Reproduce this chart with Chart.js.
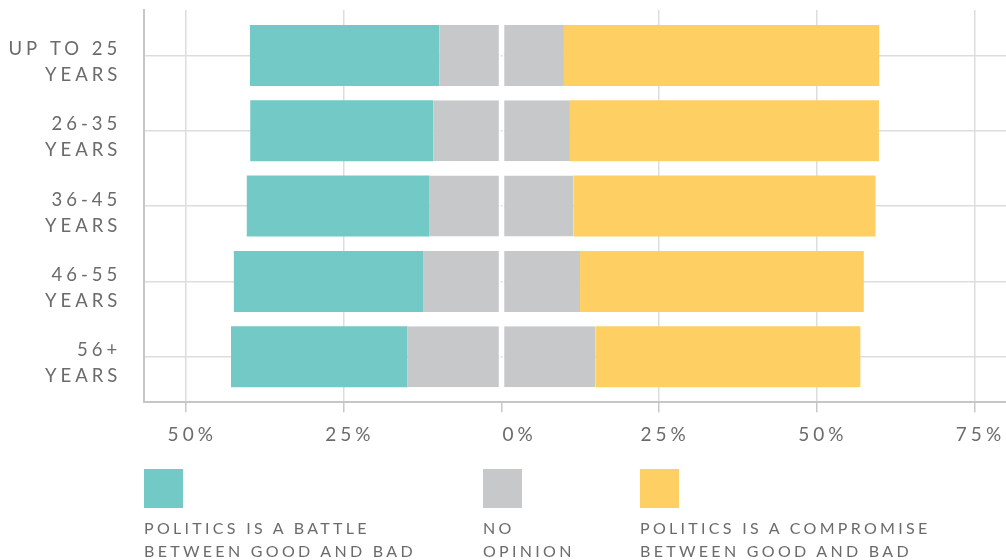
<!DOCTYPE html>
<html>
<head>
<meta charset="utf-8">
<script src="https://cdn.jsdelivr.net/npm/chart.js@4/dist/chart.umd.min.js"></script>
<style>
  html, body { margin: 0; padding: 0; background: #ffffff; }
  #wrap { position: relative; width: 1006px; height: 560px; overflow: hidden; }
  #chart { position: absolute; left: 0; top: 0; }
  .sw { position: absolute; top: 469px; width: 39px; height: 39px; }
  .lt { position: absolute; top: 516px; font-family: Lato, "Open Sans", sans-serif; font-size: 16px;
        line-height: 23px; letter-spacing: 3.3px; color: #6b6b6b; white-space: nowrap; }
</style>
</head>
<body>
<div id="wrap">
  <canvas id="chart" width="1006" height="560"></canvas>
  <div id="legend"></div>
</div>
<script>
// ---- data ----
const categories = [['UP TO 25', 'YEARS'], ['26-35', 'YEARS'], ['36-45', 'YEARS'], ['46-55', 'YEARS'], ['56+', 'YEARS']];
const battle = [30, 29, 29, 30, 28];          // "Politics is a battle between good and bad" (%)
const noOpinion = [19.8, 21.7, 22.8, 24.9, 29.8]; // "No opinion" (%), centred on 0
const compromise = [50, 49, 47.9, 45, 42];    // "Politics is a compromise between good and bad" (%)
const xTickValues = [-50, -25, 0, 25, 50, 75];
const xMin = -56.7;
const xMax = 80;
const seriesLegend = [['POLITICS IS A BATTLE', 'BETWEEN GOOD AND BAD'], ['NO', 'OPINION'], ['POLITICS IS A COMPROMISE', 'BETWEEN GOOD AND BAD']];

// ---- style ----
const colors = { battle: '#72C9C5', none: '#C7C8CA', compromise: '#FED064' };
const textColor = '#6b6b6b';
const legendLeft = [144, 483, 640];

// legend (HTML)
const legendEl = document.getElementById('legend');
const legendColors = [colors.battle, colors.none, colors.compromise];
seriesLegend.forEach((lines, i) => {
  const sw = document.createElement('div');
  sw.className = 'sw';
  sw.style.left = legendLeft[i] + 'px';
  sw.style.background = legendColors[i];
  legendEl.appendChild(sw);
  const t = document.createElement('div');
  t.className = 'lt';
  t.style.left = legendLeft[i] + 'px';
  t.innerHTML = lines.join('<br>');
  legendEl.appendChild(t);
});

const spacingPlugin = {
  id: 'spacing',
  beforeLayout(c) { c.ctx.letterSpacing = '4px'; },
  beforeDraw(c) {
    c.ctx.letterSpacing = '4px';
    // the "0%" label sits just right of the zero line in the reference
    const s = c.scales.x;
    const items = s.getLabelItems();
    const zi = s.ticks.findIndex(t => t.value === 0);
    if (zi >= 0 && items[zi] && !items[zi]._shifted) {
      items[zi].options.translation[0] += 12;
      items[zi]._shifted = true;
    }
  }
};

const extraCat = 0.1047;

new Chart(document.getElementById('chart'), {
  type: 'bar',
  data: {
    labels: categories,
    datasets: [
      { label: 'No opinion (left half)', data: noOpinion.map(v => -v / 2), backgroundColor: colors.none,
        borderColor: '#ffffff', borderWidth: { top: 0, bottom: 0, left: 0, right: 2 }, borderSkipped: false },
      { label: 'No opinion (right half)', data: noOpinion.map(v => v / 2), backgroundColor: colors.none,
        borderColor: '#ffffff', borderWidth: { top: 0, bottom: 0, left: 2, right: 0 }, borderSkipped: false },
      { label: 'Politics is a battle between good and bad', data: battle.map(v => -v), backgroundColor: colors.battle, borderWidth: 0 },
      { label: 'Politics is a compromise between good and bad', data: compromise, backgroundColor: colors.compromise, borderWidth: 0 }
    ]
  },
  options: {
    indexAxis: 'y',
    responsive: false,
    animation: false,
    devicePixelRatio: 1,
    layout: { padding: { top: 10, right: 0, bottom: 103, left: 0 } },
    datasets: { bar: { categoryPercentage: 1, barPercentage: 0.81 } },
    plugins: { legend: { display: false }, tooltip: { enabled: false } },
    scales: {
      x: {
        stacked: true,
        min: xMin,
        max: xMax,
        afterBuildTicks: s => { s.ticks = xTickValues.map(v => ({ value: v })); },
        afterFit: s => { s.paddingLeft = 0; s.paddingRight = 0; },
        grid: {
          color: c => (c.tick && c.tick.value === 0) ? 'rgba(0,0,0,0)' : '#dddddd',
          tickColor: '#c8c8c8',
          lineWidth: 1.5,
          tickLength: 10,
          drawTicks: true
        },
        border: { display: true, color: '#c6c6c6', width: 2 },
        ticks: {
          color: textColor,
          font: { family: 'Lato', size: 19 },
          padding: 11,
          labelOffset: 6,
          maxRotation: 0,
          autoSkip: false,
          callback: v => Math.abs(v) + '%'
        }
      },
      y: {
        stacked: true,
        offset: true,
        afterBuildTicks: s => {
          s._startValue = -0.5 - extraCat;
          s._valueRange = categories.length + 2 * extraCat;
        },
        afterFit: s => { s.width = 144; s.paddingTop = 0; s.paddingBottom = 0; },
        grid: { color: '#dddddd', lineWidth: 1.5, offset: false, drawTicks: false },
        border: { display: true, color: '#c6c6c6', width: 2 },
        ticks: {
          color: textColor,
          font: { family: 'Lato', size: 18.5, lineHeight: '26px' },
          padding: 22.7,
          labelOffset: 6.5,
          autoSkip: false
        }
      }
    }
  },
  plugins: [spacingPlugin]
});
</script>
</body>
</html>
